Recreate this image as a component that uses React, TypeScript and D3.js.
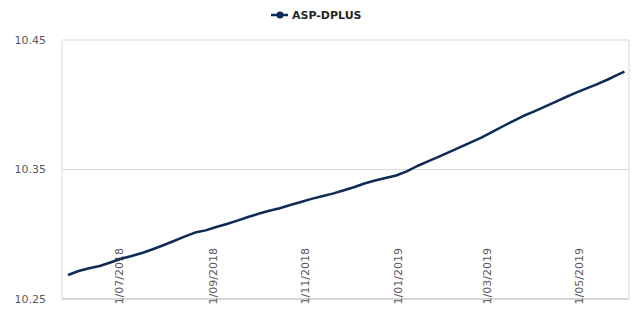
import React from "react";
import * as d3 from "d3";

// weekly ASP-DPLUS readings
const dates = [
  "2018-05-28", "2018-06-04", "2018-06-11", "2018-06-18", "2018-06-25",
  "2018-07-02", "2018-07-09", "2018-07-16", "2018-07-23", "2018-07-30",
  "2018-08-06", "2018-08-13", "2018-08-20", "2018-08-27", "2018-09-03",
  "2018-09-10", "2018-09-17", "2018-09-24", "2018-10-01", "2018-10-08",
  "2018-10-15", "2018-10-22", "2018-10-29", "2018-11-05", "2018-11-12",
  "2018-11-19", "2018-11-26", "2018-12-03", "2018-12-10", "2018-12-17",
  "2018-12-24", "2018-12-31", "2019-01-07", "2019-01-14", "2019-01-21",
  "2019-01-28", "2019-02-04", "2019-02-11", "2019-02-18", "2019-02-25",
  "2019-03-04", "2019-03-11", "2019-03-18", "2019-03-25", "2019-04-01",
  "2019-04-08", "2019-04-15", "2019-04-22", "2019-04-29", "2019-05-06",
  "2019-05-13", "2019-05-20", "2019-05-27", "2019-05-31",
];
const values = [
  10.2685, 10.2716, 10.2737, 10.2755, 10.2782,
  10.2811, 10.2832, 10.2855, 10.2884, 10.2915,
  10.2948, 10.2981, 10.3013, 10.303, 10.3056,
  10.3079, 10.3105, 10.3133, 10.3158, 10.3181,
  10.3201, 10.3226, 10.3249, 10.3273, 10.3293,
  10.3314, 10.3338, 10.3363, 10.3392, 10.3415,
  10.3434, 10.3454, 10.3485, 10.3527, 10.3562,
  10.3598, 10.3635, 10.3671, 10.3707, 10.3745,
  10.3786, 10.383, 10.3872, 10.3913, 10.3947,
  10.3983, 10.4021, 10.4058, 10.4093, 10.4126,
  10.4159, 10.4195, 10.4234, 10.4255,
];
const xTicks = ["2018-07-01", "2018-09-01", "2018-11-01", "2019-01-01", "2019-03-01", "2019-05-01"];
const yTicks = [10.25, 10.35, 10.45];
const seriesName = "ASP-DPLUS";

const W = 638;
const H = 311;
const M = { left: 62, right: 9, top: 40, bottom: 12 };
const NAVY = "#0e2a57";

export default function App() {
  const parse = d3.utcParse("%Y-%m-%d");
  const fmt = d3.utcFormat("%-d/%m/%Y");
  const data = dates.map((d, i) => ({ date: parse(d) as Date, value: values[i] }));

  const x = d3
    .scaleUtc()
    .domain([parse("2018-05-24") as Date, parse("2019-06-03") as Date])
    .range([M.left, W - M.right]);
  const y = d3.scaleLinear().domain([10.25, 10.45]).range([H - M.bottom, M.top]);

  const line = d3
    .line<{ date: Date; value: number }>()
    .x((d) => x(d.date))
    .y((d) => y(d.value));

  const bottom = y(10.25);

  return (
    <svg
      width={W}
      height={H}
      style={{ position: "absolute", left: 0, top: 0, background: "#fff" }}
      fontFamily="DejaVu Sans, sans-serif"
    >
      {/* legend */}
      <g transform={`translate(291, 15)`}>
        <line x1={-20} x2={-3} y1={0} y2={0} stroke={NAVY} strokeWidth={2.5} />
        <circle cx={-11} cy={0} r={3.5} fill={NAVY} />
        <text x={1} y={0} dy="0.35em" fontSize={11} fontWeight="bold" fill="#262626">
          {seriesName}
        </text>
      </g>

      {/* grid + frame */}
      {yTicks.map((t) => (
        <line key={t} x1={M.left} x2={W - M.right} y1={y(t)} y2={y(t)} stroke="#d9d9d9" />
      ))}
      <line x1={M.left} x2={M.left} y1={M.top} y2={bottom} stroke="#d9d9d9" />
      <line x1={W - M.right} x2={W - M.right} y1={M.top} y2={bottom} stroke="#d9d9d9" />
      <line x1={M.left} x2={W - M.right} y1={bottom} y2={bottom} stroke="#bfbfbf" />

      {/* y labels */}
      {yTicks.map((t) => (
        <text key={t} x={46} y={y(t)} dy="0.35em" textAnchor="end" fontSize={11} fill="#595959">
          {t.toFixed(2)}
        </text>
      ))}

      {/* x labels */}
      {xTicks.map((t) => {
        const d = parse(t) as Date;
        const px = x(d);
        return (
          <text
            key={t}
            transform={`translate(${px}, 248) rotate(-90)`}
            dy="0.35em"
            textAnchor="end"
            fontSize={11}
            fill="#595959"
          >
            {fmt(d)}
          </text>
        );
      })}

      <path d={line(data) ?? ""} fill="none" stroke={NAVY} strokeWidth={2.5} strokeLinejoin="round" />
    </svg>
  );
}
